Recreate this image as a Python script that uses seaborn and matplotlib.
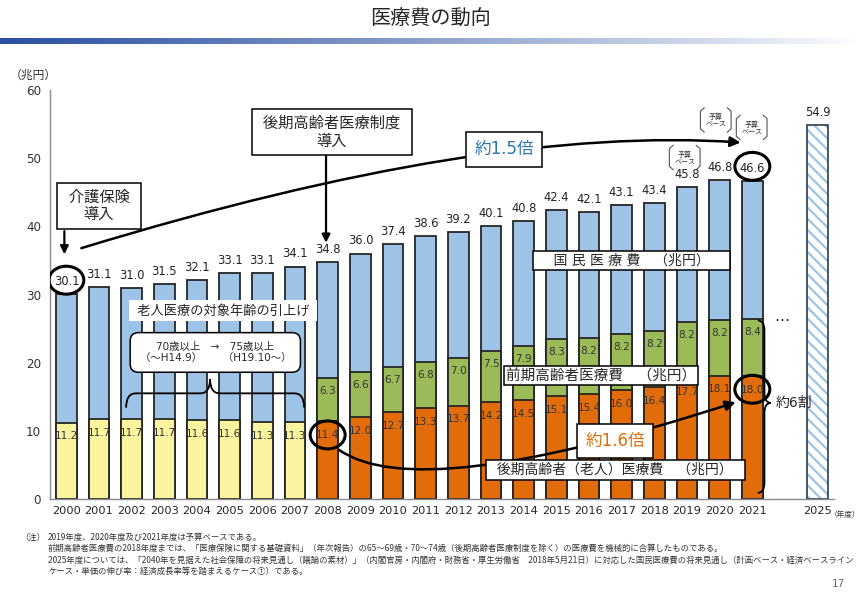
import numpy as np
import pandas as pd
import seaborn as sns
import matplotlib.pyplot as plt
from matplotlib.patches import Ellipse, PathPatch
from matplotlib.path import Path

# data (兆円)
years = [str(y) for y in range(2000, 2022)]
total = [30.1, 31.1, 31.0, 31.5, 32.1, 33.1, 33.1, 34.1, 34.8, 36.0, 37.4,
         38.6, 39.2, 40.1, 40.8, 42.4, 42.1, 43.1, 43.4, 45.8, 46.8, 46.6]
elderly = [11.2, 11.7, 11.7, 11.7, 11.6, 11.6, 11.3, 11.3, 11.4, 12.0, 12.7,
           13.3, 13.7, 14.2, 14.5, 15.1, 15.4, 16.0, 16.4, 17.7, 18.1, 18.0]
elderly_kind = ['老人'] * 8 + ['後期'] * 14
early_years = years[8:]
early = [6.3, 6.6, 6.7, 6.8, 7.0, 7.5, 7.9, 8.3, 8.2, 8.2, 8.2, 8.2, 8.2, 8.4]
proj_year = '2025'
proj_total = 54.9
budget_years = ['2019', '2020', '2021']
order = years + [' ', proj_year]

BLUE = '#9DC3E6'
GREEN = '#9BBB59'
ORANGE = '#E36C0A'
YELLOW = '#FAF49E'
EDGE = '#262626'

sns.set_style('white')
plt.rcParams['font.family'] = ['DejaVu Sans', 'Noto Sans CJK JP']
plt.rcParams['hatch.linewidth'] = 1.6

fig = plt.figure(figsize=(8.6, 5.95), dpi=100)
ax = fig.add_axes([50 / 860, 1 - 499 / 595, 784 / 860, 409 / 595])

bar_kw = dict(order=order, width=0.64, saturation=1, edgecolor=EDGE, linewidth=1.3, ax=ax)
sns.barplot(x=years, y=total, color=BLUE, **bar_kw)
early_top = [e + l for e, l in zip(elderly[8:], early)]
sns.barplot(x=early_years, y=early_top, color=GREEN, **bar_kw)
df_old = pd.DataFrame({'year': years, 'value': elderly, 'kind': elderly_kind})
sns.barplot(data=df_old, x='year', y='value', hue='kind', dodge=False, legend=False,
            palette={'老人': YELLOW, '後期': ORANGE}, **bar_kw)
# 2025 projection: hatched bar + outline
sns.barplot(x=[proj_year], y=[proj_total], order=order, width=0.64, color='white',
            saturation=1, edgecolor=BLUE, hatch='\\\\\\', linewidth=0, ax=ax)
sns.barplot(x=[proj_year], y=[proj_total], order=order, width=0.64, fill=False,
            color='#3a4a5a', linewidth=1.3, ax=ax)

ax.set_xlim(-0.5, len(order) - 0.5)
ax.set_ylim(0, 60)
ax.set_yticks(range(0, 61, 10))
ax.set_xlabel('')
ax.set_ylabel('')
ax.set_xticks(np.arange(-0.5, len(order), 1), minor=True)
ax.tick_params(axis='x', which='major', length=0, labelsize=8.2, pad=5)
ax.tick_params(axis='x', which='minor', length=4, color='#808080', direction='out')
ax.tick_params(axis='y', length=3, color='#808080', labelsize=8.6, labelcolor='#333333')
sns.despine(ax=ax)
for s in ['left', 'bottom']:
    ax.spines[s].set_color('#8c8c8c')
    ax.spines[s].set_linewidth(1.0)

# value labels
pos = {y: order.index(y) for y in order}
for y, t in zip(years, total):
    ax.text(pos[y], t + 0.9, f'{t:.1f}', ha='center', va='bottom', fontsize=8.3, color='#222222')
ax.text(pos[proj_year], proj_total + 0.9, f'{proj_total:.1f}', ha='center', va='bottom',
        fontsize=8.3, color='#222222')
for y, e in zip(years, elderly):
    ax.text(pos[y], e - 2.0, f'{e:.1f}', ha='center', va='center', fontsize=7.6, color='#333333')
for y, e, top in zip(early_years, early, early_top):
    ax.text(pos[y], top - 1.9, f'{e:.1f}', ha='center', va='center', fontsize=7.6, color='#333333')

# circles
for cx, cy in [(0, 32.1), (8, 9.4), (21, 16.1), (21, 48.8)]:
    ax.add_patch(Ellipse((cx, cy), 1.07, 4.1, fill=False, ec='black', lw=2.2, zorder=5))

box = dict(boxstyle='square,pad=0.45', fc='white', ec='black', lw=1.1)
ax.text(1.0, 43.0, ' 介護保険 \n導入', ha='center', va='center', fontsize=11, linespacing=1.2, bbox=box)
ax.text(8.13, 53.8, ' 後期高齢者医療制度 \n導入', ha='center', va='center', fontsize=11,
        linespacing=1.2, bbox=box)
arrow = dict(arrowstyle='-|>', color='black', lw=1.6, mutation_scale=12, shrinkA=0, shrinkB=0)
ax.annotate('', xy=(-0.06, 35.9), xytext=(-0.06, 39.3), arrowprops=arrow)
ax.annotate('', xy=(7.95, 37.6), xytext=(7.95, 50.4), arrowprops=arrow)

# growth curves
ax.annotate('', xy=(20.64, 52.3), xytext=(0.46, 36.8),
            arrowprops=dict(arrowstyle='-|>', color='black', lw=1.8, mutation_scale=15,
                            shrinkA=0, shrinkB=0, connectionstyle='angle3,angleA=17,angleB=-4'))
ax.text(13.4, 51.3, '約1.5倍', ha='center', va='center', fontsize=12, color='#2E75B6',
        bbox=dict(boxstyle='square,pad=0.5', fc='white', ec='black', lw=1.1))
ax.annotate('', xy=(20.49, 14.2), xytext=(8.35, 7.2),
            arrowprops=dict(arrowstyle='-|>', color='black', lw=1.8, mutation_scale=15,
                            shrinkA=0, shrinkB=0, connectionstyle='angle3,angleA=-35,angleB=18'))
ax.text(16.8, 8.5, '約1.6倍', ha='center', va='center', fontsize=12, color=ORANGE,
        bbox=dict(boxstyle='square,pad=0.5', fc='white', ec='black', lw=1.1))

# category boxes
ax.text(17.3, 35.0, '    国 民 医 療 費　（兆円）    ', ha='center', va='center', fontsize=10,
        bbox=dict(boxstyle='square,pad=0.2', fc='white', ec='black', lw=1.1))
ax.text(16.36, 18.1, '前期高齢者医療費　（兆円）', ha='center', va='center', fontsize=10.5,
        bbox=dict(boxstyle='square,pad=0.15', fc='white', ec='black', lw=1.1))
ax.text(16.8, 4.25, '  後期高齢者（老人）医療費　（兆円）  ', ha='center', va='center', fontsize=10,
        bbox=dict(boxstyle='square,pad=0.2', fc='white', ec='black', lw=1.1))

ax.text(4.8, 27.6, ' 老人医療の対象年齢の引上げ ', ha='center', va='center', fontsize=9.5,
        bbox=dict(boxstyle='square,pad=0.3', fc='white', ec='none'))
ax.text(4.56, 21.5, '70歳以上　→　75歳以上\n（～H14.9）　　（H19.10～）', ha='center', va='center',
        fontsize=7.5, linespacing=1.1,
        bbox=dict(boxstyle='round,pad=0.9,rounding_size=0.8', fc='white', ec='black', lw=1.1))


def brace(a0, a1, am, b, h, d, vertical=False):
    pts = [(a0, b - h), (a0, b), (a0 + d, b), (am - d, b), (am, b), (am, b + h),
           (am, b), (am + d, b), (a1 - d, b), (a1, b), (a1, b - h)]
    codes = [Path.MOVETO, Path.CURVE3, Path.CURVE3, Path.LINETO, Path.CURVE3, Path.CURVE3,
             Path.CURVE3, Path.CURVE3, Path.LINETO, Path.CURVE3, Path.CURVE3]
    if vertical:
        pts = [(q, p) for p, q in pts]
    ax.add_patch(PathPatch(Path(pts, codes), fill=False, ec='black', lw=1.3, zorder=4))


brace(1.83, 7.28, 4.4, 15.5, 2.1, 0.3)
brace(0.9, 26.2, 14.1, 21.37, 0.2, 1.5, vertical=True)
ax.text(21.72, 14.1, '約6割', ha='left', va='center', fontsize=10)
ax.text(21.9, 26.8, '…', ha='center', va='center', fontsize=11)

# 予算ベース brackets
for cx, cy in [(18.93, 50.1), (19.88, 55.6), (20.98, 54.5)]:
    w, h = 0.47, 1.8
    ax.plot([cx - w + 0.12, cx - w, cx - w, cx - w + 0.12], [cy + h, cy + h - 0.5, cy - h + 0.5, cy - h],
            color='#555555', lw=0.8, clip_on=False)
    ax.plot([cx + w - 0.12, cx + w, cx + w, cx + w - 0.12], [cy + h, cy + h - 0.5, cy - h + 0.5, cy - h],
            color='#555555', lw=0.8, clip_on=False)
    ax.text(cx, cy, '予算\nベース', ha='center', va='center', fontsize=5, linespacing=1.2, color='#333333')

# header
fig.text(0.5, 1 - 19 / 595, '医療費の動向', ha='center', va='center', fontsize=14.5)
gax = fig.add_axes([0, 1 - 44 / 595, 1, 6 / 595])
grad = np.linspace(0, 1, 256)
start = np.array([0.17, 0.31, 0.63])
cols = start[None, :] * (1 - grad[:, None]) ** 0.9 + np.ones(3)[None, :] * (1 - (1 - grad[:, None]) ** 0.9)
gax.imshow(cols[None, :, :], aspect='auto', extent=(0, 1, 0, 1))
gax.axis('off')

fig.text(10 / 860, 1 - 75 / 595, '（兆円）', ha='left', va='center', fontsize=8.5, color='#333333')
fig.text(845 / 860, 1 - 515 / 595, '（年度）', ha='center', va='center', fontsize=5.5, color='#333333')

notes = [
    '2019年度、2020年度及び2021年度は予算ベースである。',
    '前期高齢者医療費の2018年度までは、「医療保険に関する基礎資料」（年次報告）の65～69歳・70～74歳（後期高齢者医療制度を除く）の医療費を機械的に合算したものである。',
    '2025年度については、「2040年を見据えた社会保障の将来見通し（議論の素材）」（内閣官房・内閣府・財務省・厚生労働省　2018年5月21日）に対応した国民医療費の将来見通し（計画ベース・経済ベースライン',
    'ケース・単価の伸び率：経済成長率等を踏まえるケース①）である。',
]
fig.text(20 / 860, 1 - 537 / 595, '（注）', ha='left', va='center', fontsize=6, color='#333333',
         family='Noto Sans CJK JP')
for i, line in enumerate(notes):
    fig.text(48 / 860, 1 - (537 + 11.5 * i) / 595, line, ha='left', va='center', fontsize=6,
             color='#333333', family='Noto Sans CJK JP')
fig.text(845 / 860, 1 - 584 / 595, '17', ha='right', va='center', fontsize=7.5, color='#666666')

fig.savefig('out.png', dpi=100)
